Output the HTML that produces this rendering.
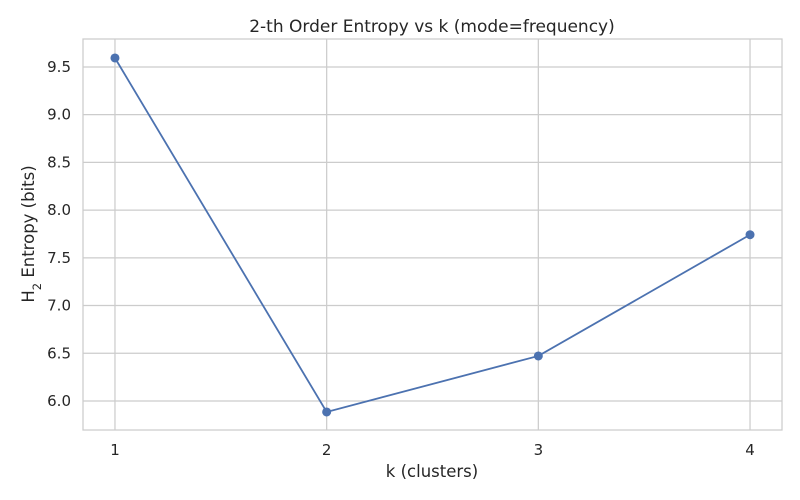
<!DOCTYPE html>
<html><head><meta charset="utf-8">
<style>
body{margin:0;background:#fff;}
svg{display:block;font-family:"DejaVu Sans","Liberation Sans",sans-serif;}
</style></head>
<body>
<svg id="chart" width="800" height="500" xmlns="http://www.w3.org/2000/svg">
<rect x="0" y="0" width="800" height="500" fill="#fff"/>
<g id="grid"></g>
<rect x="83" y="39" width="699" height="391" fill="none" stroke="#ccc" stroke-width="1.25"/>
<g id="ticks"></g>
<g id="series"></g>
<text x="432" y="32" text-anchor="middle" font-size="17" fill="#262626">2-th Order Entropy vs k (mode=frequency)</text>
<text x="432" y="477" text-anchor="middle" font-size="16.5" fill="#262626">k (clusters)</text>
<text transform="translate(34,234) rotate(-90)" text-anchor="middle" font-size="16.5" fill="#262626">H<tspan baseline-shift="sub" font-size="11.5">2</tspan> Entropy (bits)</text>
</svg>
<script>
const kValues = [1, 2, 3, 4];
const entropyValues = [9.594, 5.885, 6.472, 7.742];
const yTickValues = [6.0, 6.5, 7.0, 7.5, 8.0, 8.5, 9.0, 9.5];
const yTickLabels = ["6.0", "6.5", "7.0", "7.5", "8.0", "8.5", "9.0", "9.5"];
const xTickValues = [1, 2, 3, 4];
const xTickLabels = ["1", "2", "3", "4"];

const L=83,R=782,T=39,B=430;
const xMin=0.849,xMax=4.151,yMin=5.696,yMax=9.793;
const sx=v=>L+(v-xMin)/(xMax-xMin)*(R-L);
const sy=v=>B-(v-yMin)/(yMax-yMin)*(B-T);
const NS="http://www.w3.org/2000/svg";
function mk(tag,attrs,parent,text){const e=document.createElementNS(NS,tag);for(const k in attrs)e.setAttribute(k,attrs[k]);if(text!==undefined)e.textContent=text;parent.appendChild(e);return e;}
const grid=document.getElementById('grid'),ticks=document.getElementById('ticks'),series=document.getElementById('series');
yTickValues.forEach((v,i)=>{
  const l=mk('line',{x1:L,x2:R,y1:sy(v),y2:sy(v),stroke:'#ccc','stroke-width':1.25},grid);
  
  
  const t=mk('text',{x:L-12,y:sy(v)+5,'text-anchor':'end','font-size':15,fill:'#262626'},ticks,yTickLabels[i]);
  
  
});
xTickValues.forEach((v,i)=>{
  const l=mk('line',{x1:sx(v),x2:sx(v),y1:T,y2:B,stroke:'#ccc','stroke-width':1.25},grid);
  
  
  const t=mk('text',{x:sx(v),y:B+25,'text-anchor':'middle','font-size':15,fill:'#262626'},ticks,xTickLabels[i]);
  
  
});
const pts=kValues.map((k,i)=>sx(k)+','+sy(entropyValues[i])).join(' ');
const line=mk('polyline',{points:pts,fill:'none',stroke:'#4c72b0','stroke-width':1.8},series);


kValues.forEach((k,i)=>{
  const c=mk('circle',{cx:sx(k),cy:sy(entropyValues[i]),r:4.5,fill:'#4c72b0'},series);
  
  
});
</script>
</body></html>
